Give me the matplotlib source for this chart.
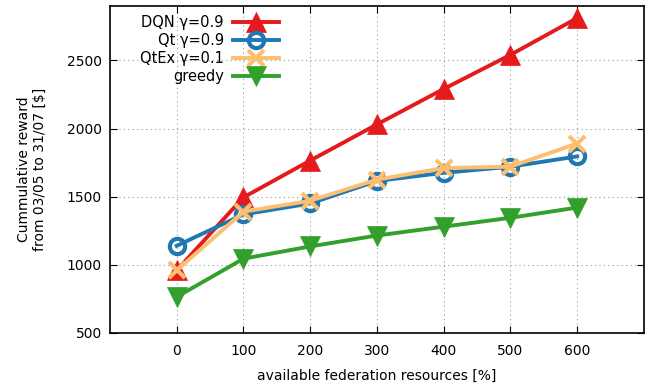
import matplotlib
matplotlib.use("Agg")
import matplotlib.pyplot as plt

resources = [0, 100, 200, 300, 400, 500, 600]
dqn = [960, 1495, 1765, 2030, 2290, 2540, 2810]
qt = [1140, 1370, 1450, 1615, 1675, 1720, 1795]
qtex = [960, 1390, 1470, 1625, 1710, 1720, 1890]
greedy = [765, 1045, 1135, 1215, 1280, 1345, 1420]

labels = ["DQN \u03b3=0.9", "Qt \u03b3=0.9", "QtEx \u03b3=0.1", "greedy"]

fig = plt.figure(figsize=(6.63, 3.89), dpi=100)
ax = fig.add_axes([0.166, 0.144, 0.805, 0.841])

lw = 2.8
ax.plot(resources, dqn, color="#e41a1c", lw=lw, marker="^", ms=14, mew=0.5, label=labels[0])
ax.plot(resources, qt, color="#1f78b4", lw=lw, marker="o", ms=11, mfc="none", mew=3, label=labels[1])
ax.plot(resources, qtex, color="#fdbf6f", lw=lw, marker="x", ms=11, mew=3, label=labels[2])
ax.plot(resources, greedy, color="#33a02c", lw=lw, marker="v", ms=14, mew=0.5, label=labels[3])

ax.set_xlim(-100, 700)
ax.set_ylim(500, 2900)
ax.set_xticks(resources)
ax.set_yticks([500, 1000, 1500, 2000, 2500])
ax.tick_params(direction="in", top=True, right=True, length=5, labelsize=10)
ax.tick_params(axis="x", pad=8)
ax.tick_params(axis="y", pad=6)
ax.grid(True, linestyle=(0, (1, 3)), color="#999999", lw=0.8)
for s in ax.spines.values():
    s.set_linewidth(1.2)

ax.set_xlabel("available federation resources [%]", fontsize=10, labelpad=8)
ax.set_ylabel("Cummulative reward\nfrom 03/05 to 31/07 [\\$]", fontsize=10, labelpad=14)

leg = ax.legend(loc="upper left", bbox_to_anchor=(0.056, 0.972), markerfirst=False,
                frameon=False, fontsize=10.5, handlelength=3.1, labelspacing=0.2,
                borderaxespad=0, borderpad=0, handletextpad=0.65)

fig.savefig("out.png", dpi=100)
